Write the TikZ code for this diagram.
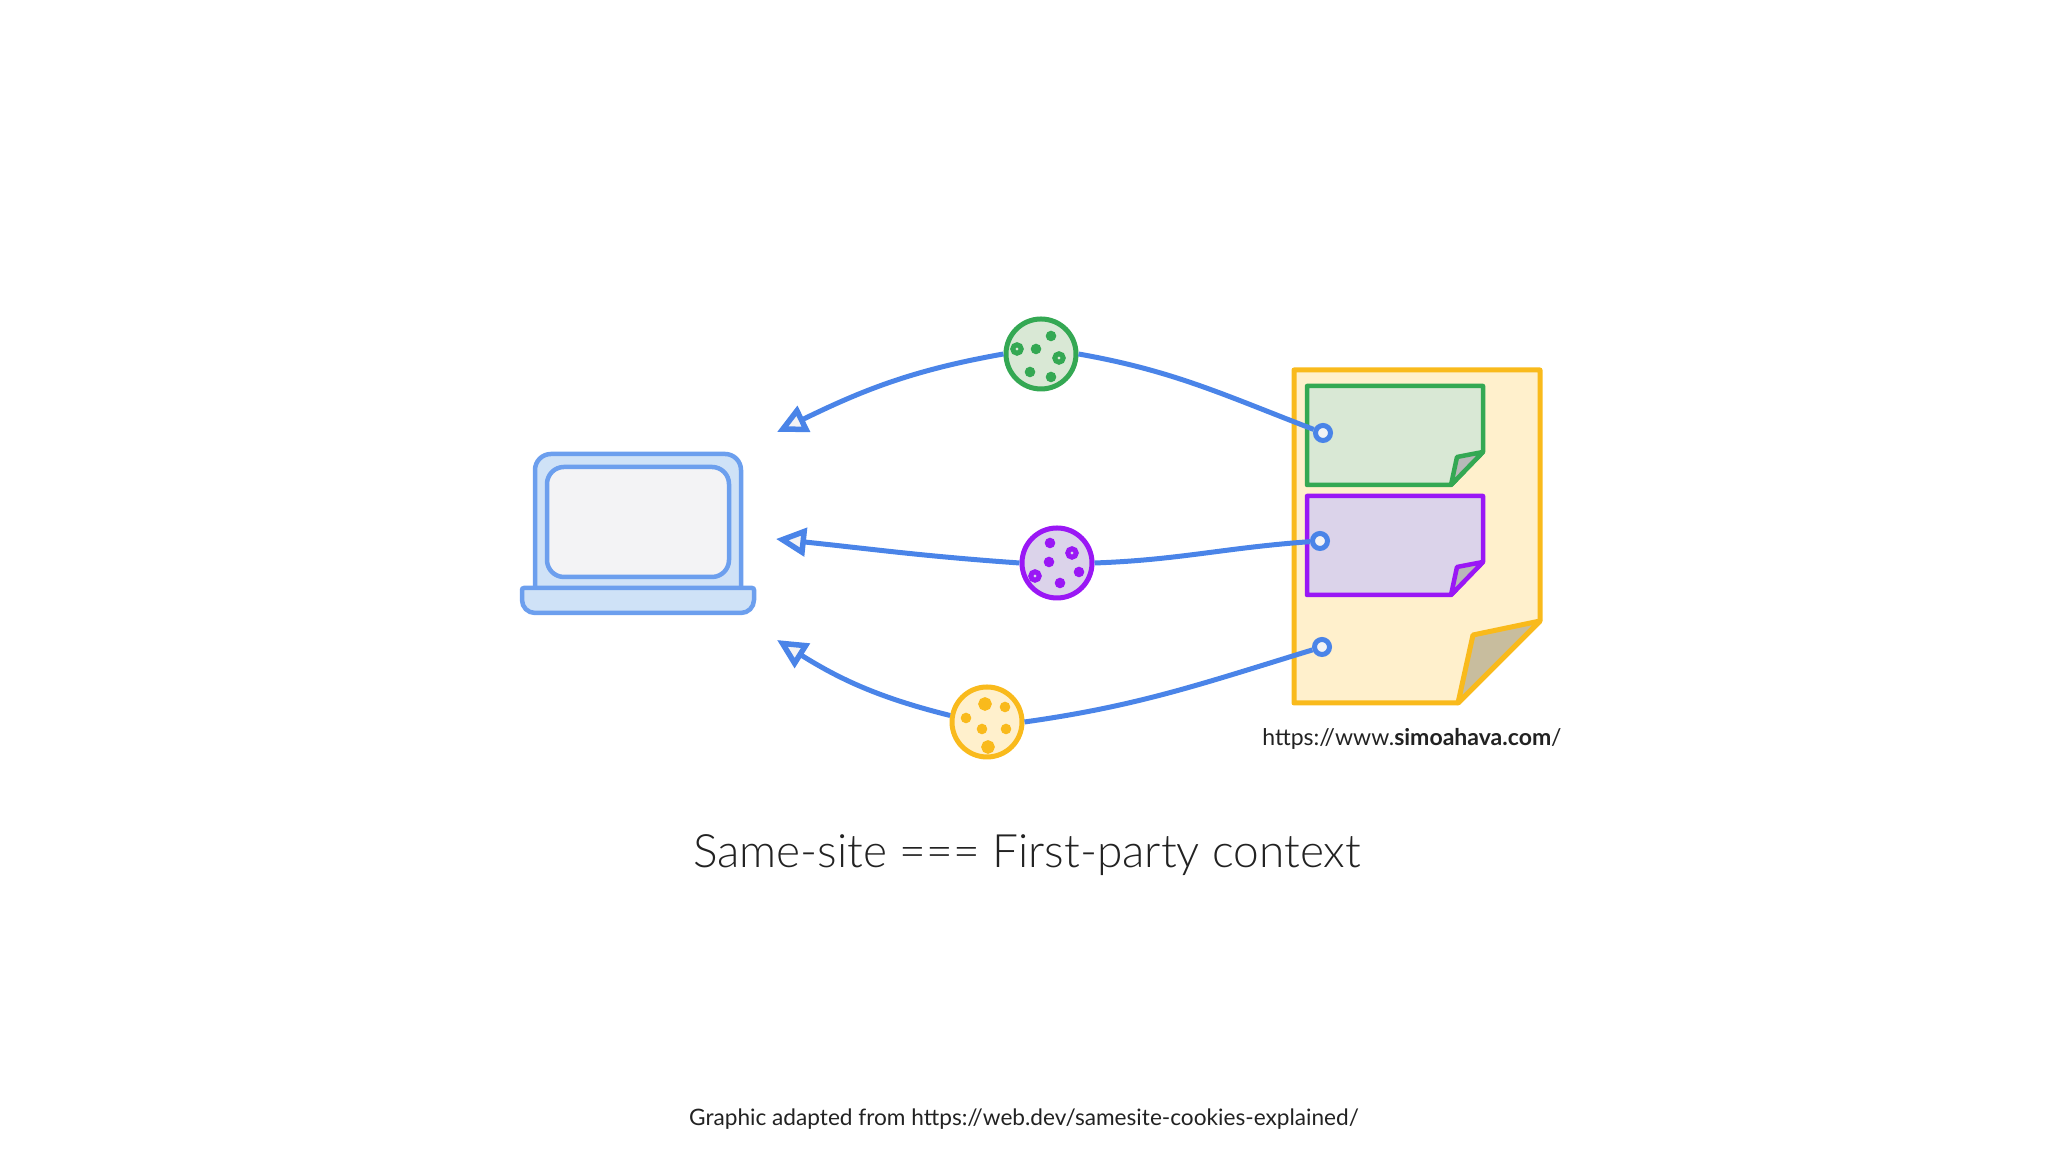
\documentclass[tikz,border=0pt]{standalone}
\usepackage{fontspec}
\setmainfont{Lato}
\newfontfamily\titlefont{Lato Light}
\usetikzlibrary{arrows.meta}
\definecolor{wireblue}{HTML}{4A84E8}
\definecolor{laptopblue}{HTML}{6C9FEE}
\definecolor{laptopfill}{HTML}{CFE2F7}
\definecolor{screenfill}{HTML}{F3F3F5}
\definecolor{docorange}{HTML}{F9BA1C}
\definecolor{docfill}{HTML}{FFF0CC}
\definecolor{docfold}{HTML}{C8BD9E}
\definecolor{notegreen}{HTML}{34A853}
\definecolor{greenfill}{HTML}{D9E8D5}
\definecolor{notepurple}{HTML}{9A17F5}
\definecolor{purplefill}{HTML}{DBD3EA}
\definecolor{captionink}{HTML}{222222}
\tikzset{
	laptopline/.style={line width=0.045cm, draw=laptopblue, fill=laptopfill},
	wire/.style={line width=0.05cm, color=wireblue},
	headwire/.style={wire, -{Triangle[open, length=0.3cm, width=0.28cm, line width=0.055cm, fill=screenfill]}},
	cookie/.style={circle, line width=0.05cm, minimum size=0.7cm, inner sep=0pt},
	enddot/.style={circle, line width=0.05cm, draw=wireblue, fill=screenfill, minimum size=0.15cm, inner sep=0pt},
}
% sticky note: colours, then the top left corner
\def\stickynote[#1][#2](#3,#4){
	\draw[line width=0.045cm, line join=round, draw=#1, fill=#2] (#3, #4) -- (#3+1.76, #4) -- (#3+1.76, #4-0.66) -- (#3+1.44, #4-0.99) -- (#3, #4-0.99) -- cycle;
	\draw[line width=0.045cm, line join=round, draw=#1, fill=black!28] (#3+1.76, #4-0.66) -- (#3+1.50, #4-0.71) -- (#3+1.44, #4-0.99) -- cycle;
}
\def\crumb[#1](#2,#3){\fill[#1] (#2, #3) circle (0.053);}
\def\ringcrumb[#1][#2](#3,#4){\draw[line width=0.05cm, draw=#1, fill=#2] (#3, #4) circle (0.042);}

\begin{document}
\begin{tikzpicture}
	\useasboundingbox (0, 0) rectangle (20.48, 11.52);
	
	%%%%% LAPTOP %%%%%
	\draw[laptopline, rounded corners=0.16cm] (5.35, 5.64) -- (5.35, 6.98) -- (7.41, 6.98) -- (7.41, 5.64);
	\draw[laptopline, fill=screenfill, rounded corners=0.17cm] (5.47, 5.75) rectangle (7.29, 6.85);
	\draw[laptopline, rounded corners=0.02cm] (5.22, 5.64) [rounded corners=0.13cm] -- (5.22, 5.39) -- (7.54, 5.39) [rounded corners=0.02cm] -- (7.54, 5.64) -- cycle;
	
	%%%%% PAGE %%%%%
	\draw[line width=0.05cm, line join=round, draw=docorange, fill=docfill] (12.94, 7.82) -- (15.40, 7.82) -- (15.40, 5.31) -- (14.58, 4.49) -- (12.94, 4.49) -- cycle;
	\draw[line width=0.05cm, line join=round, draw=docorange, fill=docfold] (15.40, 5.31) -- (14.73, 5.17) -- (14.58, 4.49) -- cycle;
	\stickynote[notegreen][greenfill](13.07, 7.66)
	\stickynote[notepurple][purplefill](13.07, 6.56)
	
	%%%%% COOKIES %%%%%
	\node[cookie, draw=notegreen, fill=greenfill] (cookiegreen) at (10.41, 7.98) {};
	\crumb[notegreen](10.51, 8.16)
	\crumb[notegreen](10.36, 8.03)
	\crumb[notegreen](10.30, 7.80)
	\crumb[notegreen](10.51, 7.75)
	\ringcrumb[notegreen][greenfill](10.17, 8.03)
	\ringcrumb[notegreen][greenfill](10.59, 7.94)
	
	\node[cookie, draw=notepurple, fill=purplefill] (cookiepurple) at (10.57, 5.89) {};
	\crumb[notepurple](10.50, 6.09)
	\crumb[notepurple](10.49, 5.90)
	\crumb[notepurple](10.79, 5.80)
	\crumb[notepurple](10.60, 5.69)
	\ringcrumb[notepurple][purplefill](10.72, 5.99)
	\ringcrumb[notepurple][purplefill](10.35, 5.76)
	
	\node[cookie, draw=docorange, fill=docfill] (cookieyellow) at (9.87, 4.30) {};
	\ringcrumb[docorange][docorange](9.85, 4.48)
	\crumb[docorange](10.05, 4.45)
	\crumb[docorange](9.66, 4.34)
	\crumb[docorange](9.82, 4.23)
	\crumb[docorange](10.06, 4.23)
	\ringcrumb[docorange][docorange](9.88, 4.05)
	
	%%%%% WIRES %%%%%
	\node[enddot] (dotgreen) at (13.23, 7.19) {};
	\node[enddot] (dotpurple) at (13.20, 6.11) {};
	\node[enddot] (dotyellow) at (13.22, 5.05) {};
	\coordinate (tipgreen) at (7.77, 7.20);
	\coordinate (tippurple) at (7.76, 6.13);
	\coordinate (tipyellow) at (7.77, 5.12);
	
	\draw[wire] (dotgreen) to[out=159, in=-10] (cookiegreen.east);
	\draw[headwire] (cookiegreen.west) to[out=190, in=26] (tipgreen);
	\draw[wire] (dotpurple) to[out=184, in=2] (cookiepurple.east);
	\draw[headwire] (cookiepurple.west) to[out=176, in=-6] (tippurple);
	\draw[wire] (dotyellow) to[out=197, in=8] (cookieyellow.east);
	\draw[headwire] (cookieyellow.170) to[out=166, in=-32] (tipyellow);
	
	%%%%% TEXT %%%%%
	\node[color=captionink, font=\fontsize{6.55}{8}\selectfont] (pageurl) at (14.12, 4.13) {https://www.\textbf{simoahava.com}/};
	\node[color=captionink, font=\titlefont\fontsize{13.1}{15}\selectfont] (title) at (10.27, 2.97) {Same-site === First-party context};
	\node[color=captionink, font=\fontsize{6.44}{8}\selectfont] (credit) at (10.24, 0.33) {Graphic adapted from https://web.dev/samesite-cookies-explained/};
\end{tikzpicture}
\end{document}
